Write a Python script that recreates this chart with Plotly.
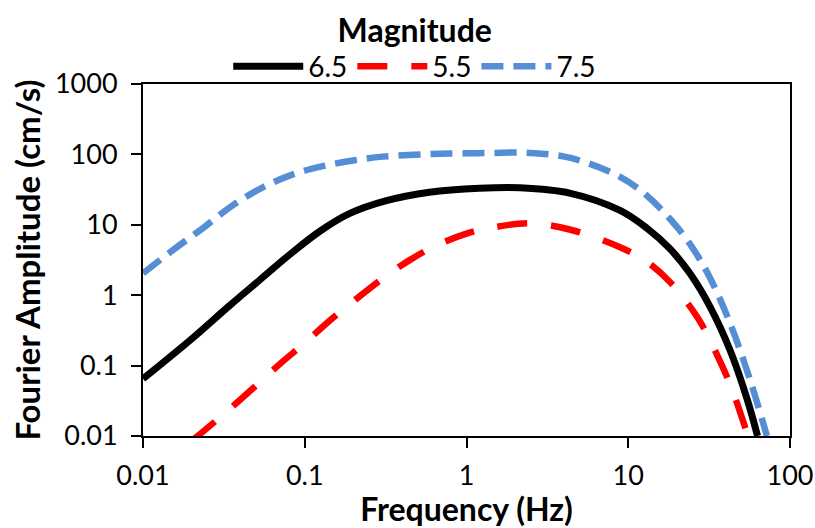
import plotly.graph_objects as go

# Magnitude 6.5 (black, solid)
x_m65 = [0.01, 0.02, 0.0345, 0.0528, 0.081, 0.124, 0.19, 0.32, 0.59, 1.2, 2.14, 4.4, 8.9, 13.0, 18.2, 24.1, 32.0, 42.5, 54.2, 63.0]
y_m65 = [0.065, 0.24, 0.72, 1.65, 3.8, 8.1, 14.5, 22.0, 29.0, 33.0, 33.5, 28.0, 16.0, 9.0, 4.5, 2.03, 0.69, 0.168, 0.034, 0.01]

# Magnitude 5.5 (red, long dash)
x_m55 = [0.02, 0.032, 0.05, 0.07, 0.1, 0.14, 0.2, 0.3, 0.45, 0.64, 1.0, 1.4, 2.46, 4.4, 8.9, 13.0, 18.2, 27.0, 38.0, 44.5, 50.5, 55.0]
y_m55 = [0.0085, 0.021, 0.052, 0.105, 0.21, 0.42, 0.82, 1.7, 3.2, 5.0, 7.5, 9.0, 10.5, 8.5, 4.8, 3.0, 1.52, 0.47, 0.10, 0.042, 0.018, 0.01]

# Magnitude 7.5 (blue, dash)
x_m75 = [0.01, 0.0153, 0.0235, 0.036, 0.055, 0.0845, 0.129, 0.199, 0.305, 0.59, 1.2, 2.46, 4.4, 8.9, 13.0, 18.2, 24.1, 32.0, 42.5, 56.6, 72.0]
y_m75 = [2.05, 4.37, 9.0, 19.0, 34.0, 52.0, 68.0, 82.0, 93.0, 101.0, 104.0, 105.0, 89.0, 48.0, 26.1, 12.0, 5.33, 1.77, 0.405, 0.063, 0.01]

x_ticks = [0.01, 0.1, 1, 10, 100]
x_tick_labels = ["0.01", "0.1", "1", "10", "100"]
y_ticks = [0.01, 0.1, 1, 10, 100, 1000]
y_tick_labels = ["0.01", "0.1", "1", "10", "100", "1000"]

FONT = "Lato"

fig = go.Figure()
fig.add_trace(go.Scatter(x=x_m65, y=y_m65, mode="lines", name="6.5",
                         line=dict(color="black", width=7, shape="spline")))
fig.add_trace(go.Scatter(x=x_m55, y=y_m55, mode="lines", name="5.5",
                         line=dict(color="#FF0000", width=6.5, shape="spline", dash="30px,24px")))
fig.add_trace(go.Scatter(x=x_m75, y=y_m75, mode="lines", name="7.5",
                         line=dict(color="#558ED5", width=6.5, shape="spline", dash="22px,10px")))

fig.update_layout(
    width=815, height=528,
    margin=dict(l=143, r=25, t=84, b=92, autoexpand=False),
    paper_bgcolor="white", plot_bgcolor="white",
    font=dict(family=FONT, size=27, color="black"),
    showlegend=True,
    legend=dict(
        orientation="h", x=0.42, xref="paper", xanchor="center",
        y=1.0, yref="container", yanchor="top",
        title=dict(text="<b>Magnitude</b>", side="top center", font=dict(size=32)),
        font=dict(size=28), itemwidth=70, tracegroupgap=0,
        bgcolor="rgba(0,0,0,0)",
    ),
    xaxis=dict(
        type="log", range=[-2, 2],
        tickvals=x_ticks, ticktext=x_tick_labels,
        showgrid=False, zeroline=False,
        showline=True, linecolor="black", linewidth=2, mirror=True,
        ticks="outside", ticklen=10, tickwidth=2, tickcolor="black",
        ticklabelstandoff=5,
        title=dict(text="<b>Frequency (Hz)</b>", font=dict(size=32), standoff=4),
    ),
    yaxis=dict(
        type="log", range=[-2, 3],
        tickvals=y_ticks, ticktext=y_tick_labels,
        showgrid=False, zeroline=False,
        showline=True, linecolor="black", linewidth=2, mirror=True,
        ticks="outside", ticklen=10, tickwidth=2, tickcolor="black",
        ticklabelstandoff=8,
        title=dict(text="<b>Fourier Amplitude (cm/s)</b>", font=dict(size=33), standoff=4),
    ),
)

fig.write_html("out.html")
